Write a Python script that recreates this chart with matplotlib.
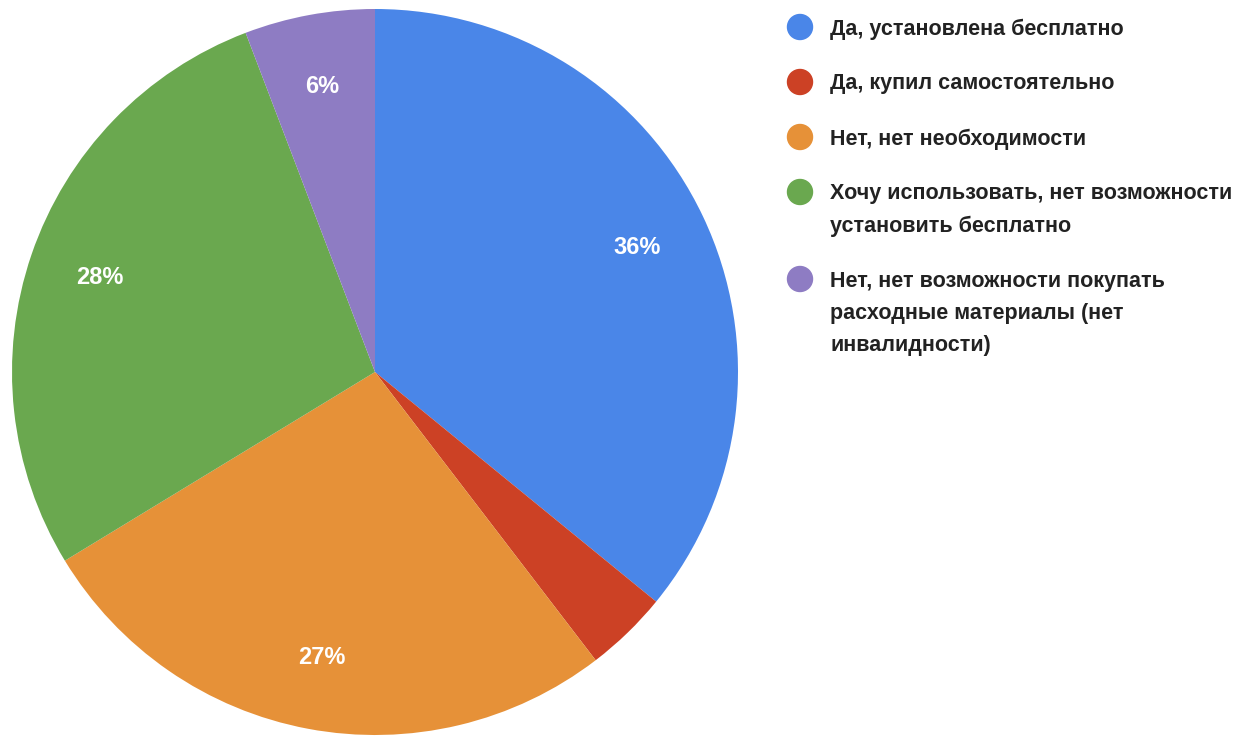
import matplotlib
matplotlib.use('Agg')
import matplotlib.pyplot as plt
from matplotlib.patches import Ellipse

# Données (en %)
categories = [
    "Да, установлена бесплатно",
    "Да, купил самостоятельно",
    "Нет, нет необходимости",
    "Хочу использовать, нет возможности\nустановить бесплатно",
    "Нет, нет возможности покупать\nрасходные материалы (нет\nинвалидности)",
]
valeurs = [35.9, 3.7, 26.7, 27.9, 5.8]
couleurs = ["#4a86e8", "#cc4125", "#e69138", "#6aa84f", "#8e7cc3"]

plt.rcParams['font.family'] = ['Liberation Sans', 'DejaVu Sans']

W, H = 1240, 736
fig = plt.figure(figsize=(W / 100, H / 100), dpi=100)
ax = fig.add_axes([12 / W, 1 / H, 726 / W, 726 / H])


def etiquette(pct):
    # pas d'étiquette pour les petites parts (comme Google Sheets)
    return f"{pct:.0f}%" if pct >= 5 else ""


wedges, _, autotexts = ax.pie(valeurs, colors=couleurs, startangle=90, counterclock=False,
                              autopct=etiquette, pctdistance=0.8, radius=1,
                              wedgeprops=dict(linewidth=0),
                              textprops=dict(color="white", fontsize=17, fontweight="bold"))
ax.set_xlim(-1, 1)
ax.set_ylim(-1, 1)
ax.set_aspect('equal')
ax.axis('off')

# légende à droite, dessinée à la main (une ligne de texte à la fois)
y = 27
for lab, col in zip(categories, couleurs):
    fig.patches.append(Ellipse((800 / W, 1 - y / H), 25 / W, 25 / H,
                               transform=fig.transFigure, color=col))
    for ligne in lab.split("\n"):
        fig.text(830 / W, 1 - (y + 2) / H, ligne, fontsize=15.5, fontweight="bold",
                 color="#222222", va="center", ha="left")
        y += 32
    y += 23

fig.savefig("out.png", dpi=100)
